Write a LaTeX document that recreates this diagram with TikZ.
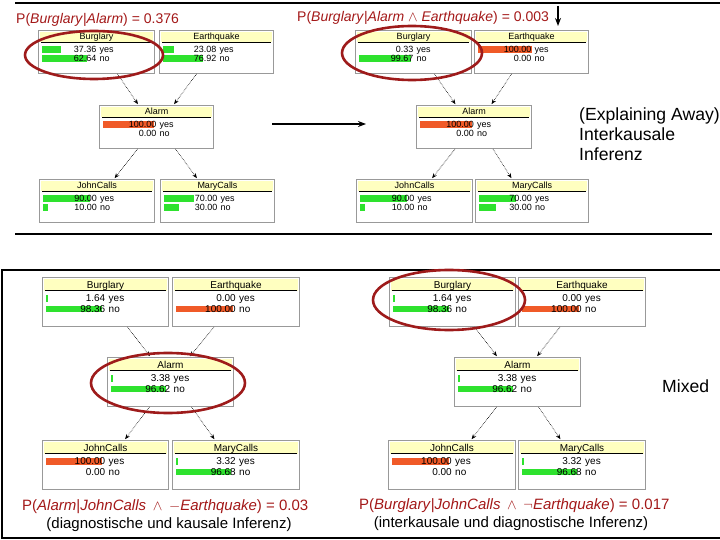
\documentclass[tikz,border=0pt]{standalone}
\usepackage{fontspec}
\setmainfont{Liberation Sans}
\usetikzlibrary{arrows.meta, positioning, calc}
\definecolor{hdr}{HTML}{FFFFC0}
\definecolor{grn}{HTML}{2EE22E}
\definecolor{orng}{HTML}{F05A28}
\definecolor{dred}{HTML}{9E1B1B}
\definecolor{ttlred}{HTML}{A31818}

% box of one network variable: name, left, top, width, height, title
\newcommand{\netnode}[6]{%
  \node[netbox, minimum width=#4, minimum height=#5, anchor=north west] (#1) at (#2,#3) {};
  \fill[hdr] ($(#1.north west)+(2,2)$) rectangle ($(#1.north east)+(-2,{0.28*#5})$);
  \draw[black, line width=0.6pt] ($(#1.north west)+(3,{0.28*#5})$) -- ($(#1.north east)+(-3,{0.28*#5})$);
  \node[boxtxt, anchor=base, inner sep=0pt] at ($(#1.north)+(0,{0.28*#5-2.5})$) {#6};
}
% one state row: node, row y, value, state, bar width, colour
\newcommand{\netrow}[6]{%
  \fill[#6] ($(#1.north west)+(4,#2-3.2)$) rectangle ++(#5,6.4);
  \path ($(#1.north west)!0.5!(#1.north east)$) ++(0,#2+3.2)
    node[boxtxt, anchor=base east, inner sep=0pt] {#3}
    node[boxtxt, anchor=base west, inner sep=0pt, xshift=3pt] {#4};
}

\begin{document}
\begin{tikzpicture}[x=1pt, y=-1pt,
  netbox/.style={draw=black!40, line width=1pt, fill=white, inner sep=0pt},
  boxtxt/.style={font=\fontsize{9}{10}\selectfont},
  ring/.style={draw=dred, line width=2.6pt},
  link/.style={densely dotted, line width=0.6pt, shorten >=1pt, -{Stealth[length=5pt, width=4pt]}},
  ttl/.style={font=\fontsize{14}{17}\selectfont, text=ttlred, inner sep=0pt},
  ttlb/.style={ttl, font=\fontsize{15}{18}\selectfont},
  subttl/.style={font=\fontsize{15}{18}\selectfont, inner sep=0pt},
  bigtxt/.style={font=\fontsize{17.6}{20}\selectfont, inner sep=0pt, align=left},
  ar/.style={line width=1.6pt, -{Stealth[length=8pt, width=6pt]}}
]
\useasboundingbox (0,0) rectangle (720,540);

% ================= separators and frame =================
\draw[line width=1.2pt] (15,3) -- (720,3);
\draw[line width=1.2pt] (15,234) -- (712,234);
\draw[line width=2.4pt] (725,270) -- (2,270) -- (2,538) -- (725,538);

% ================= TOP LEFT =================
\netnode{B1}{38}{30}{116}{43}{Burglary}
\netrow{B1}{19.5}{37.36}{yes}{19}{grn}
\netrow{B1}{28.5}{62.64}{no}{45}{grn}
\netnode{E1}{159}{30}{114}{43}{Earthquake}
\netrow{E1}{19.5}{23.08}{yes}{11}{grn}
\netrow{E1}{28.5}{76.92}{no}{40}{grn}
\netnode{A1}{99}{105}{114}{43}{Alarm}
\netrow{A1}{19.5}{100.00}{yes}{51}{orng}
\netrow{A1}{28.5}{0.00}{no}{0}{white}
\netnode{J1}{39}{179}{115}{43}{JohnCalls}
\netrow{J1}{19.5}{90.00}{yes}{47}{grn}
\netrow{J1}{28.5}{10.00}{no}{5}{grn}
\netnode{M1}{160}{179}{114}{43}{MaryCalls}
\netrow{M1}{19.5}{70.00}{yes}{30}{grn}
\netrow{M1}{28.5}{30.00}{no}{15}{grn}

% ================= TOP RIGHT =================
\netnode{B2}{355}{30}{116}{43}{Burglary}
\netrow{B2}{19.5}{0.33}{yes}{0}{white}
\netrow{B2}{28.5}{99.67}{no}{52}{grn}
\netnode{E2}{474}{30}{114}{43}{Earthquake}
\netrow{E2}{19.5}{100.00}{yes}{54}{orng}
\netrow{E2}{28.5}{0.00}{no}{0}{white}
\netnode{A2}{416}{105}{115}{43}{Alarm}
\netrow{A2}{19.5}{100.00}{yes}{52}{orng}
\netrow{A2}{28.5}{0.00}{no}{0}{white}
\netnode{J2}{356}{179}{116}{43}{JohnCalls}
\netrow{J2}{19.5}{90.00}{yes}{47}{grn}
\netrow{J2}{28.5}{10.00}{no}{5}{grn}
\netnode{M2}{475}{179}{113}{43}{MaryCalls}
\netrow{M2}{19.5}{70.00}{yes}{37}{grn}
\netrow{M2}{28.5}{30.00}{no}{17}{grn}

\foreach \n in {1,2} {
  \draw[link] ([xshift=21pt]B\n.south) -- ([xshift=-18pt]A\n.north);
  \draw[link] ([xshift=-20pt]E\n.south) -- ([xshift=17pt]A\n.north);
  \draw[link] ([xshift=-19pt]A\n.south) -- ([xshift=17pt]J\n.north);
  \draw[link] ([xshift=19pt]A\n.south) -- ([xshift=-20pt]M\n.north);
}

% ================= BOTTOM =================
\begin{scope}[boxtxt/.style={font=\fontsize{10}{11}\selectfont}]
\netnode{B3}{42}{277}{126}{49}{Burglary}
\netrow{B3}{21.5}{1.64}{yes}{1.5}{grn}
\netrow{B3}{32}{98.36}{no}{56}{grn}
\netnode{E3}{172}{277}{127}{49}{Earthquake}
\netrow{E3}{21.5}{0.00}{yes}{0}{white}
\netrow{E3}{32}{100.00}{no}{57}{orng}
\netnode{A3}{107}{357}{126}{49}{Alarm}
\netrow{A3}{21.5}{3.38}{yes}{1.5}{grn}
\netrow{A3}{32}{96.62}{no}{55}{grn}
\netnode{J3}{42}{440}{126}{49}{JohnCalls}
\netrow{J3}{21.5}{100.00}{yes}{56}{orng}
\netrow{J3}{32}{0.00}{no}{0}{white}
\netnode{M3}{172}{440}{127}{49}{MaryCalls}
\netrow{M3}{21.5}{3.32}{yes}{1.5}{grn}
\netrow{M3}{32}{96.68}{no}{55}{grn}

\netnode{B4}{389}{277}{126}{49}{Burglary}
\netrow{B4}{21.5}{1.64}{yes}{1.5}{grn}
\netrow{B4}{32}{98.36}{no}{56}{grn}
\netnode{E4}{518}{277}{127}{49}{Earthquake}
\netrow{E4}{21.5}{0.00}{yes}{0}{white}
\netrow{E4}{32}{100.00}{no}{57}{orng}
\netnode{A4}{454}{357}{126}{49}{Alarm}
\netrow{A4}{21.5}{3.38}{yes}{1.5}{grn}
\netrow{A4}{32}{96.62}{no}{55}{grn}
\netnode{J4}{388}{440}{127}{49}{JohnCalls}
\netrow{J4}{21.5}{100.00}{yes}{57}{orng}
\netrow{J4}{32}{0.00}{no}{0}{white}
\netnode{M4}{518}{440}{127}{49}{MaryCalls}
\netrow{M4}{21.5}{3.32}{yes}{1.5}{grn}
\netrow{M4}{32}{96.68}{no}{55}{grn}
\end{scope}

\foreach \n in {3,4} {
  \draw[link] ([xshift=22pt]B\n.south) -- ([xshift=-20pt]A\n.north);
  \draw[link] ([xshift=-22pt]E\n.south) -- ([xshift=19pt]A\n.north);
  \draw[link] ([xshift=-21pt]A\n.south) -- ([xshift=19pt]J\n.north);
  \draw[link] ([xshift=21pt]A\n.south) -- ([xshift=-21pt]M\n.north);
}

% ================= highlight rings =================
\draw[ring] (94,55) ellipse [x radius=69, y radius=24];
\draw[ring] (412,53) ellipse [x radius=70, y radius=27];
\draw[ring] (168,383) ellipse [x radius=77, y radius=30];
\draw[ring] (449,300) ellipse [x radius=76, y radius=30];

% ================= texts and arrows =================
\node[ttl, anchor=west] (q1) at (16,20) {P(\textit{Burglary}|\textit{Alarm}) = 0.376};
\node[ttl, anchor=west] (q2) at (297,18) {P(\textit{Burglary}|\textit{Alarm} $\wedge$ \textit{Earthquake}) = 0.003};
\coordinate (d0) at (558,6);
\coordinate (d1) at (558,26);
\draw[ar] (d0) -- (d1);
\coordinate (h0) at (272,124);
\coordinate (h1) at (366,124);
\draw[ar] (h0) -- (h1);
\node[bigtxt, anchor=north west] (expl) at (579,108) {(Explaining Away)\\Interkausale\\Inferenz};
\node[bigtxt, anchor=west] (mixed) at (662,386) {Mixed};

\node[ttlb, anchor=west] (q3) at (22,507) {P(\textit{Alarm}|\textit{JohnCalls} \,$\wedge$\, $-$\textit{Earthquake}) = 0.03};
\node[subttl] (s3) at (169,525) {(diagnostische und kausale Inferenz)};
\node[ttlb, anchor=west] (q4) at (359,506) {P(\textit{Burglary}|\textit{JohnCalls} \,$\wedge$\, $\neg$\textit{Earthquake}) = 0.017};
\node[subttl] (s4) at (511,524) {(interkausale und diagnostische Inferenz)};

\end{tikzpicture}
\end{document}
